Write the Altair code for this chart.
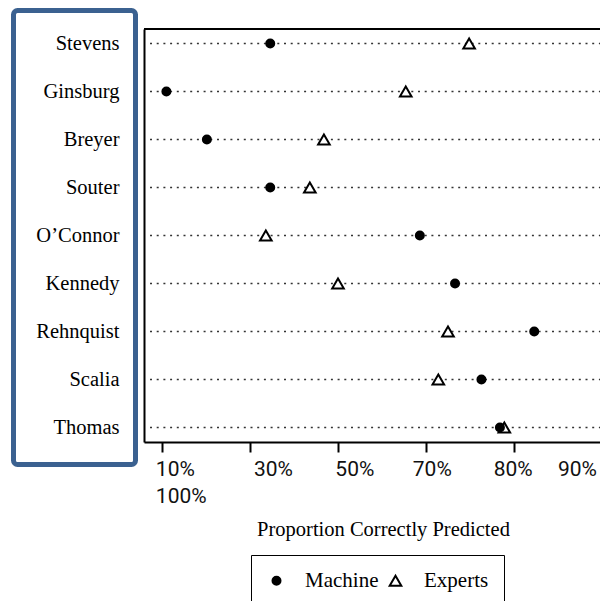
import altair as alt
import pandas as pd

# ---- data ----
justices = ["Stevens", "Ginsburg", "Breyer", "Souter", "O’Connor",
            "Kennedy", "Rehnquist", "Scalia", "Thomas"]
machine = [0.523, 0.405, 0.451, 0.523, 0.693, 0.733, 0.823, 0.763, 0.784]
experts = [0.749, 0.677, 0.584, 0.568, 0.518, 0.600, 0.725, 0.714, 0.789]

tick_values = [0.4, 0.5, 0.6, 0.7, 0.8, 0.9]
tick_labels = ["10%\n100%", "30%", "50%", "70%", "80%", "90%"]
label_at = [0.393, 0.5045, 0.597, 0.685, 0.777, 0.8500]

series = ["Machine", "Experts"]

# ---- tables ----
rows = []
for j, e in zip(justices, experts):
    rows.append({"justice": j, "value": e, "series": "Experts"})
for j, m in zip(justices, machine):
    rows.append({"justice": j, "value": m, "series": "Machine"})
pts = pd.DataFrame(rows)
rows_df = pd.DataFrame({"justice": justices})
labels_df = pd.DataFrame({"label": tick_labels, "at": label_at})
one = pd.DataFrame({"k": [0]})

W, H = 456, 413
xscale = alt.Scale(domain=[0.37955, 0.89773], nice=False, zero=False)
yscale = alt.Scale(type="point", padding=0.302)
SERIF = "Liberation Serif"

yenc = alt.Y("justice:N", sort=justices, scale=yscale,
             axis=alt.Axis(title=None, ticks=False, grid=False, domain=True,
                           domainColor="black", domainWidth=2,
                           labelFont=SERIF, labelFontSize=20.5,
                           labelColor="black", labelPadding=25))

frame_box = alt.Chart(one).mark_rect(
    filled=False, stroke="#3B6190", strokeWidth=5, cornerRadius=4
).encode(x=alt.value(-130.5), x2=alt.value(-8.5),
         y=alt.value(-18.5), y2=alt.value(435.5))

top_border = alt.Chart(one).mark_rule(color="black", strokeWidth=2).encode(
    x=alt.value(0), x2=alt.value(W), y=alt.value(0))

grid = alt.Chart(rows_df).mark_rule(
    color="#333333", strokeWidth=1.5, strokeDash=[2, 4.7]
).encode(x=alt.value(6), x2=alt.value(W), y=yenc)


def leg():
    return alt.Legend(title=None, orient="none", legendX=107, legendY=526,
                      direction="horizontal", strokeColor="black",
                      padding=15, labelFont=SERIF, labelFontSize=21,
                      labelColor="black", labelOffset=18, columnPadding=6,
                      symbolStrokeWidth=2)


points = alt.Chart(pts).mark_point(
    strokeWidth=2, opacity=1, fillOpacity=1
).encode(
    x=alt.X("value:Q", scale=xscale,
            axis=alt.Axis(values=tick_values, labels=False, grid=False,
                          domainColor="black", domainWidth=2,
                          tickColor="black", tickWidth=2, tickSize=10,
                          title="Proportion Correctly Predicted",
                          titleFont=SERIF, titleFontSize=20.5,
                          titleFontWeight="normal", titleColor="black",
                          titleX=239, titleY=93, titleAlign="center",
                          titleBaseline="alphabetic")),
    y=alt.Y("justice:N", sort=justices, scale=yscale),
    shape=alt.Shape("series:N", scale=alt.Scale(domain=series, range=["circle", "triangle-up"]),
                    legend=leg()),
    fill=alt.Fill("series:N", scale=alt.Scale(domain=series, range=["black", "white"]),
                  legend=leg()),
    stroke=alt.Stroke("series:N", scale=alt.Scale(domain=series, range=["black", "black"]),
                      legend=leg()),
    size=alt.Size("series:N", scale=alt.Scale(domain=series, range=[64, 135]),
                  legend=leg()),
)

tick_text = alt.Chart(labels_df).mark_text(
    align="left", baseline="alphabetic", lineBreak="\n", lineHeight=27,
    font="Liberation Sans Narrow, Roboto, sans-serif", fontSize=21,
    color="#111111"
).encode(x=alt.X("at:Q", scale=xscale), y=alt.value(447), text="label:N")

chart = alt.layer(frame_box, grid, top_border, points, tick_text).properties(
    width=W, height=H,
    autosize=alt.AutoSizeParams(type="none"),
    padding={"left": 136, "top": 21, "right": 0, "bottom": 159},
    background="white",
).configure_view(stroke="transparent")

chart.save("out.html", embed_options={"renderer": "svg", "actions": False})
